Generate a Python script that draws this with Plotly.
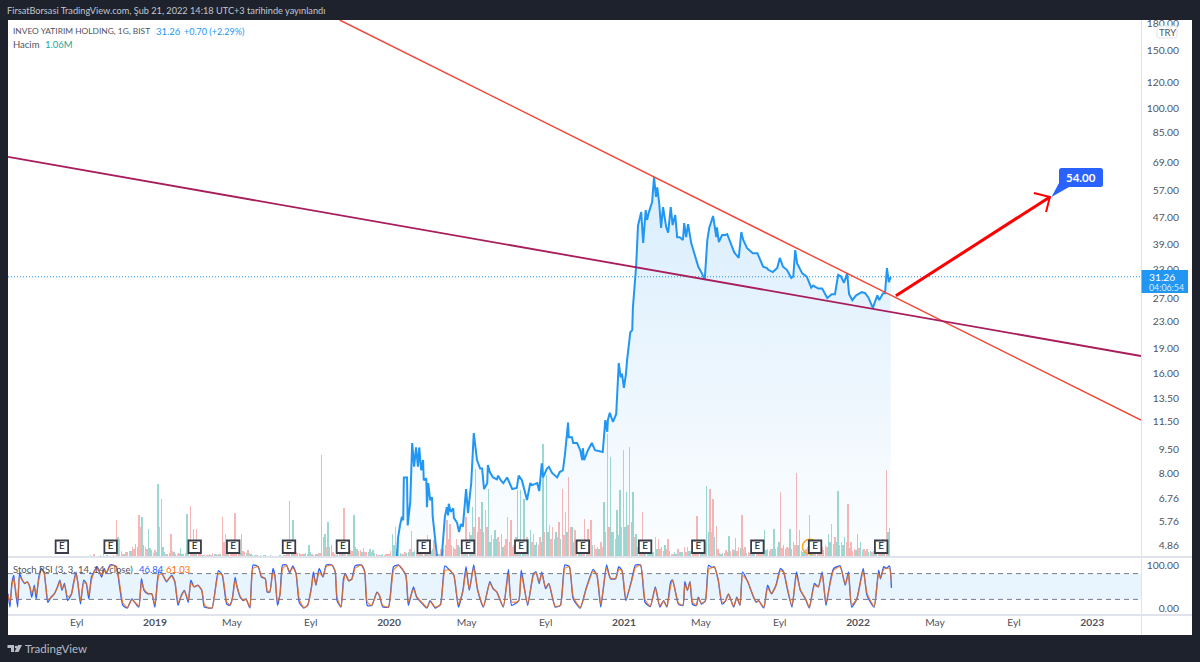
import numpy as np
import pandas as pd
import plotly.graph_objects as go

BASE = pd.Timestamp("2019-01-01")

price_days = [
 376,377,379,382,385,387,388,393,394,398,
 401,404,407,410,412,415,418,419,423,424,
 426,429,432,433,437,440,443,447,452,455,
 457,458,461,465,466,471,474,477,480,485,
 488,493,497,502,507,510,513,518,519,522,
 527,533,535,539,543,549,553,557,564,567,
 572,580,585,588,596,599,603,605,611,614,
 619,627,631,636,639,644,645,650,652,658,
 663,666,667,669,675,681,686,698,702,705,
 706,709,714,719,723,726,728,731,734,736,
 741,744,745,748,750,753,758,761,765,767,
 770,775,778,781,783,786,789,792,797,800,
 804,807,811,814,818,823,825,828,831,836,
 839,845,847,853,857,861,864,870,875,876,
 879,884,889,892,898,903,910,914,917,923,
 932,939,948,954,956,963,970,974,979,985,
 992,995,998,1001,1009,1016,1023,1026,1034,1040,
 1048,1055,1060,1065,1069,1074,1079,1082,1087,1093,
 1102,1107,1112,1119,1126,1129,1135,1138,1141,1144,
 1147]
price_values = [
 4.2,4.5,5.15,5.6,5.95,5.8,7.8,7.8,5.6,6.6,
 9.9,8.4,9.6,8.4,9.6,8.2,8.8,7.65,7.75,6.35,
 7.5,6.67,6.8,5.95,5.05,4.5,3.95,4.5,5.95,6.35,
 6.0,6.5,6.15,6.3,5.9,5.7,5.35,5.65,5.55,7.2,
 6.1,7.5,10.6,8.8,8.3,8.3,7.2,7.5,8.5,8.1,
 7.8,7.7,7.9,7.65,7.5,7.8,7.5,7.2,7.25,7.9,
 7.65,6.67,7.5,7.4,7.5,7.1,8.6,7.8,8.3,8.4,
 8.05,7.8,8.1,8.2,9.1,11.4,10.3,10.3,9.9,9.9,
 9.42,8.8,9.55,8.8,9.42,9.9,9.42,9.3,11.6,10.7,
 11.6,12.2,11.45,12.1,17.2,15.6,16.0,14.5,15.85,17.6,
 21.3,21.6,25.2,30.6,33.5,44.5,48.9,39.5,49.6,46.3,
 48.9,52.4,62.3,54.3,58.0,52.0,43.8,50.6,44.0,42.4,
 50.6,44.7,47.9,41.1,41.1,40.3,45.3,41.1,45.0,39.4,
 37.6,34.3,33.5,31.9,30.6,40.3,43.8,47.6,41.1,44.0,
 39.7,41.7,41.7,42.0,39.4,37.0,35.6,42.6,40.3,38.1,
 36.8,36.8,33.5,33.2,32.8,32.3,33.2,35.6,33.5,32.8,
 31.0,31.3,37.6,34.3,32.0,31.3,29.0,29.4,28.8,28.8,
 27.0,27.7,27.7,31.7,31.4,30.0,32.0,27.7,26.6,27.5,
 28.1,27.9,27.1,25.2,27.5,26.6,27.9,27.9,33.2,30.1,
 31.26]

# Volume in millions, one reading every 5 days from day -225
volume_m = [
 .1,.1,.1,.1,.1,.1,.1,.1,.1,.1,.1,.1,.1,.1,.1,.1,.1,.1,.1,.1,.1,.1,.1,.1,.1,
 .2,.3,.1,.2,.3,.2,.1,.2,3.7,1.8,.3,.5,.6,1.0,1.3,4.2,4.0,1.0,2.8,.7,.7,7.3,5.8,.5,.3,
 2.3,.5,.3,.9,.3,4.3,5.1,2.8,2.8,.3,.2,.2,.3,.4,.3,.3,4.0,2.3,.3,.5,4.4,.5,2.3,.5,.7,
 .3,.2,.2,.2,.2,.1,.2,.1,.1,.2,.2,.4,5.6,3.7,.5,.4,.3,.4,1.2,.3,.3,.4,10.2,2.3,3.5,
 1.2,.3,.3,.5,4.9,1.7,.7,4.2,.8,.7,.9,.5,.8,.7,.3,.2,.3,.3,.3,2.3,3.0,1.5,.3,.5,.5,
 2.6,.6,.5,.8,.3,2.2,.6,1.7,.3,.8,.8,3.7,3.3,1.0,1.8,1.0,1.5,4.0,2.5,5.0,8.8,4.0,5.5,4.7,6.8,
 2.2,2.7,2.0,2.3,1.2,4.0,3.7,1.2,6.7,6.7,5.8,2.0,2.7,2.3,1.5,2.0,11.3,8.2,3.2,3.0,2.5,3.5,6.8,4.5,8.0,
 3.0,2.7,1.8,1.5,3.8,2.8,3.7,1.2,1.0,1.5,5.5,12.3,10.0,2.5,4.7,6.7,10.7,6.5,11.0,6.5,2.3,1.2,4.5,1.0,.5,
 .5,2.0,1.8,1.0,1.2,1.8,.3,.5,.8,.5,1.0,1.0,.6,.8,4.1,1.0,.8,7.1,6.8,5.8,3.1,.4,.4,.7,2.1,
 .8,1.9,1.0,4.2,1.0,.5,.6,.8,1.0,1.0,2.7,.8,.8,2.8,1.0,6.5,1.2,1.0,2.8,1.5,8.4,2.7,.5,.8,4.2,
 1.0,1.2,.8,1.0,1.2,2.3,3.3,2.0,6.6,1.5,2.0,5.3,1.5,.8,2.3,1.5,.8,.8,.6,.6,.8,.8,1.8,8.7,2.9]
volume_up_index = {
 0,1,2,3,4,5,6,7,8,9,10,11,12,13,14,15,16,17,18,19,20,21,22,23,24,25,27,28,30,31,32,
 39,41,43,44,46,47,48,49,51,53,55,57,60,62,64,72,75,76,77,78,79,80,81,82,83,84,85,
 87,88,90,92,93,95,97,98,99,100,102,107,108,110,112,113,116,119,121,124,126,128,131,
 135,138,140,144,147,149,151,153,158,159,160,162,164,166,167,170,175,177,183,185,187,
 189,190,192,194,195,196,199,200,204,207,209,212,215,217,221,222,224,226,232,235,238,
 241,243,247,250,255,258,260,264,265,268,270,272,274}
VOLUME_FIRST_DAY = -225
VOLUME_STEP_DAYS = 5

# Lower bars that sit between the readings above, from reading 33 on
volume_between_m = [
 2.0,.6,.3,.5,.6,.8,1.0,3.0,1.2,.8,
 .9,.4,.5,3.0,1.0,.3,.4,.6,.3,.4,
 .3,.4,1.8,1.5,1.2,.7,.2,.2,.2,.2,
 .3,.2,.3,1.5,.6,.3,.4,1.0,.4,.6,
 .4,.4,.2,.2,.1,.1,.2,.1,.1,.1,
 .1,.1,.2,.3,1.2,.5,.4,.3,.3,.3,
 .5,.2,.3,.4,2.0,1.0,1.0,.5,.2,.3,
 .6,1.2,.5,.6,1.0,.6,.5,.5,.5,.5,
 .4,.2,.2,.2,.3,.6,1.2,.8,.4,.3,
 .4,.8,.5,.4,.5,.3,.6,.5,.8,.4,
 .3,.5,1.2,1.8,1.2,.8,1.2,.8,1.2,1.8,
 2.2,3.0,2.5,2.8,2.5,3.0,1.5,1.8,1.8,1.5,
 1.0,1.8,1.5,1.0,2.0,1.8,1.5,1.5,1.8,1.5,
 1.2,1.2,1.5,2.5,2.5,1.8,1.8,2.0,1.8,2.2,
 2.5,3.0,1.5,1.2,1.0,1.0,1.5,1.5,1.2,.8,
 .8,1.0,2.5,3.0,2.5,1.8,2.2,3.0,3.0,3.2,
 3.5,2.0,1.0,1.0,.8,.5,.4,.5,.8,.8,
 .6,.8,.6,.3,.3,.5,.5,.5,.6,.5,
 .5,1.2,.6,1.5,2.5,2.5,2.0,.8,.3,.4,
 .5,.6,.7,.6,.9,.8,.4,.4,.5,.6,
 .6,.8,.7,.6,.8,.8,1.5,.9,.8,.9,
 .8,1.2,1.2,.6,.5,1.0,.8,.7,.6,.7,
 .7,1.0,1.5,1.3,1.5,1.2,1.2,1.5,.9,.6,
 .7,.9,.7,.6,.5,.5,.5,.6,.8,1.0,
 2.5]
BETWEEN_FIRST_READING = 33

rsi_days = [
 -229,-226,-223,-220,-219,-214,-211,-207,-203,-199,
 -195,-192,-188,-185,-181,-177,-173,-170,-167,-162,
 -157,-152,-148,-145,-141,-136,-130,-127,-123,-120,
 -116,-111,-107,-103,-99,-95,-90,-83,-79,-76,
 -70,-65,-60,-55,-50,-43,-36,-29,-25,-21,
 -17,-11,-5,0,6,11,18,26,31,36,
 41,46,52,56,61,67,73,77,83,89,
 99,105,112,117,121,125,128,133,138,142,
 148,153,161,166,172,175,179,184,187,191,
 195,199,205,210,215,220,225,232,238,244,
 247,251,256,262,267,276,281,284,290,294,
 297,302,307,312,322,327,331,338,346,350,
 355,364,372,380,391,395,403,408,418,424,
 429,437,445,452,460,466,473,480,485,490,
 497,503,512,522,527,533,543,551,556,567,
 571,581,590,594,599,603,609,614,624,632,
 639,646,652,663,672,683,689,695,704,710,
 718,723,728,734,743,749,757,764,772,780,
 787,793,798,804,807,816,823,826,830,834,
 838,844,847,852,858,863,868,872,878,884,
 889,894,902,907,912,916,924,930,937,941,
 949,955,961,968,975,980,985,993,1000,1006,
 1014,1020,1028,1034,1040,1046,1053,1058,1068,1076,
 1081,1086,1094,1104,1110,1121,1128,1131,1136,1140,
 1145,1148]
rsi_k = [
 33,2,57,76,61,2,80,65,57,61,
 49,25,53,21,72,92,84,49,13,25,
 33,49,65,41,57,17,33,57,84,57,
 9,65,57,21,72,84,96,72,92,80,
 100,100,96,49,6,0,21,8,2,68,
 41,33,33,2,84,80,61,76,61,6,
 29,41,13,65,49,53,41,2,0,0,
 87,76,9,6,25,72,49,25,17,21,
 0,100,96,72,68,37,37,92,76,6,
 33,100,100,82,98,80,13,0,6,49,
 84,53,92,72,100,100,84,17,2,68,
 80,63,68,98,100,84,6,6,37,29,
 3,2,96,100,76,6,49,25,8,0,
 17,0,8,98,87,76,2,41,96,41,
 100,41,2,61,45,37,2,90,6,17,
 88,6,80,84,57,84,45,57,2,6,
 100,96,21,0,45,90,76,2,100,68,
 68,96,87,17,65,100,100,13,3,49,
 2,17,2,61,65,9,6,61,41,61,
 8,6,25,9,17,100,94,96,65,9,
 16,33,2,25,6,84,61,37,13,17,
 0,53,33,53,92,84,49,2,84,41,
 21,0,57,49,84,6,65,92,98,53,
 84,2,21,92,29,2,88,68,96,92,
 98,46.84]
rsi_d = [
 30,12,50,70,62,14,72,66,58,60,
 50,34,48,32,66,88,84,52,20,24,
 32,47,62,44,54,26,32,54,80,58,
 16,58,58,30,64,82,92,76,88,82,
 96,99,96,56,12,1,19,10,4,60,
 44,34,33,8,76,80,63,74,62,12,
 27,39,18,58,50,52,42,8,1,0,
 80,77,14,7,23,65,50,27,18,20,
 2,92,96,74,68,40,37,82,75,14,
 30,92,99,84,94,80,20,1,6,46,
 76,56,82,74,96,100,85,24,3,60,
 78,64,67,92,100,85,14,6,35,30,
 6,2,88,99,78,14,44,27,10,1,
 15,2,7,88,88,76,8,38,86,44,
 94,44,4,58,46,37,3,80,14,16,
 78,10,76,82,60,80,48,56,4,6,
 92,96,26,1,43,86,76,8,92,70,
 68,90,87,22,62,94,100,20,4,46,
 5,16,3,52,64,12,6,54,42,60,
 14,6,23,11,16,90,94,95,66,14,
 15,32,4,23,8,76,62,38,15,16,
 2,46,34,51,86,84,52,6,76,43,
 22,2,52,50,78,12,60,88,96,56,
 78,8,20,86,34,4,80,70,90,92,
 92,61.03]

earnings_days = [-145,-69,62,122,209,293,419,488,571,667,764,847,939,1029,1132]
EARNINGS_LEVEL = 4.83

red_trend_days = [288, 1537]
red_trend_prices = [184.6, 11.6]
purple_trend_days = [-229, 1537]
purple_trend_prices = [71.6, 18.07]
arrow_days = [1155, 1395]
arrow_prices = [27.4, 54.3]
arrow_head_days = [1370, 1395, 1389]
arrow_head_prices = [55.8, 54.3, 48.9]
ring_day = [1021]

last_close = 31.26

x_tick_dates = ["2018-09-01","2019-01-01","2019-05-01","2019-09-01","2020-01-01","2020-05-01",
                "2020-09-01","2021-01-01","2021-05-01","2021-09-01","2022-01-01","2022-05-01",
                "2022-09-01","2023-01-01"]
x_tick_labels = ["Eyl","<b>2019</b>","May","Eyl","<b>2020</b>","May","Eyl","<b>2021</b>","May","Eyl",
                 "<b>2022</b>","May","Eyl","<b>2023</b>"]
price_ticks = [180,150,120,100,85,69,57,47,39,33,27,23,19,16,13.5,11.5,9.5,8,6.76,5.76,4.86]
rsi_ticks = [100, 0]


def dates(days):
    return BASE + pd.to_timedelta(days, unit="D")


W, H = 1200, 662
def px(v): return v / W
def py(v): return 1 - v / H

FONT = "Lato"
DARK = "#1e222d"
TXT = "#50535e"
GRID = "#e0e3eb"
BLUE = "#2196f3"
UP = "rgba(38,166,154,0.45)"
DOWN = "rgba(239,83,80,0.42)"

fig = go.Figure()

# volume, on the base axis so that price draws over it
vol_days = [VOLUME_FIRST_DAY + VOLUME_STEP_DAYS * i for i in range(len(volume_m))]
fig.add_trace(go.Bar(
    x=dates(vol_days), y=volume_m, yaxis="y", xaxis="x",
    width=2.2 * 86400000,
    marker=dict(color=[UP if i in volume_up_index else DOWN for i in range(len(volume_m))],
                line=dict(width=0)),
    showlegend=False, hoverinfo="skip"))
between_index = [BETWEEN_FIRST_READING + i for i in range(len(volume_between_m))]
between_days = [VOLUME_FIRST_DAY + VOLUME_STEP_DAYS * i + 2.5 for i in between_index]
fig.add_trace(go.Bar(
    x=dates(between_days), y=volume_between_m, yaxis="y", xaxis="x",
    width=2.2 * 86400000,
    marker=dict(color=[UP if i % 2 else DOWN for i in between_index], line=dict(width=0)),
    showlegend=False, hoverinfo="skip"))

# invisible floor for the area fill
fig.add_trace(go.Scatter(
    x=dates([price_days[0], price_days[-1]]), y=[1, 1], yaxis="y2", mode="lines",
    line=dict(width=0), showlegend=False, hoverinfo="skip"))
fig.add_trace(go.Scatter(
    x=dates(price_days), y=price_values, yaxis="y2", mode="lines",
    line=dict(color=BLUE, width=2), fill="tonexty",
    fillgradient=dict(type="vertical",
                      colorscale=[[0, "rgba(33,150,243,0.01)"], [1, "rgba(33,150,243,0.17)"]],
                      start=4.5, stop=62),
    showlegend=False))

fig.add_trace(go.Scatter(x=dates(red_trend_days), y=red_trend_prices, yaxis="y2", mode="lines",
                         line=dict(color="#f44336", width=1.4), showlegend=False))
fig.add_trace(go.Scatter(x=dates(purple_trend_days), y=purple_trend_prices, yaxis="y2", mode="lines",
                         line=dict(color="#a81d5c", width=1.8), showlegend=False))
fig.add_trace(go.Scatter(x=dates(arrow_days), y=arrow_prices, yaxis="y2", mode="lines",
                         line=dict(color="#ff0000", width=3), showlegend=False))
fig.add_trace(go.Scatter(x=dates(arrow_head_days), y=arrow_head_prices, yaxis="y2", mode="lines",
                         line=dict(color="#ff0000", width=2), showlegend=False))

# earnings flags
fig.add_trace(go.Scatter(x=dates(ring_day), y=[EARNINGS_LEVEL], yaxis="y2", mode="markers",
                         marker=dict(symbol="circle-open", size=15, color="#f6a623", line=dict(width=1.5)),
                         showlegend=False))
fig.add_trace(go.Scatter(x=dates(earnings_days), y=[EARNINGS_LEVEL] * len(earnings_days), yaxis="y2",
                         mode="markers+text", text=["E"] * len(earnings_days),
                         textposition="middle center",
                         textfont=dict(family=FONT, size=10, color="#131722"),
                         marker=dict(symbol="square", size=12.5, color="white",
                                     line=dict(color="#3a3d46", width=1.8)),
                         showlegend=False))

# Stoch RSI
fig.add_trace(go.Scatter(x=dates(rsi_days), y=rsi_k, yaxis="y3", mode="lines",
                         line=dict(color="#2962ff", width=1.3, shape="spline", smoothing=0.5),
                         showlegend=False))
fig.add_trace(go.Scatter(x=dates(rsi_days), y=rsi_d, yaxis="y3", mode="lines",
                         line=dict(color="#ff6d00", width=1.3, shape="spline", smoothing=0.5),
                         opacity=0.75, showlegend=False))

price_lo, price_hi = 4.5, 184.6
xr = dates([-229, 1537])
tick_font = dict(family=FONT, size=10.3, color=TXT)

fig.update_layout(
    width=W, height=H, autosize=False, margin=dict(l=0, r=0, t=0, b=0),
    paper_bgcolor=DARK, plot_bgcolor="rgba(0,0,0,0)", barmode="overlay", bargap=0,
    font=dict(family=FONT, color=TXT), showlegend=False, hovermode=False,
    xaxis=dict(type="date", domain=[px(8), px(1141)], range=[xr[0], xr[1]], anchor="y3",
               tickmode="array", tickvals=x_tick_dates, ticktext=x_tick_labels, ticks="",
               showgrid=False, zeroline=False, showline=False, tickfont=tick_font, automargin=False),
    yaxis=dict(domain=[py(557), py(20)], range=[0, 53.7], visible=False, fixedrange=True),
    yaxis2=dict(type="log", domain=[py(557), py(20)], overlaying="y", side="left", anchor="free",
                position=px(1179),
                range=[np.log10(price_lo), np.log10(price_hi)],
                tickmode="array", tickvals=price_ticks, ticktext=[f"{t:.2f}" for t in price_ticks],
                ticks="", showgrid=False, zeroline=False, showline=False, tickfont=tick_font,
                automargin=False),
    yaxis3=dict(domain=[py(615), py(558)], side="left", anchor="free", position=px(1179),
                range=[-16.3, 116.3],
                tickmode="array", tickvals=rsi_ticks, ticktext=[f"{t:.2f}" for t in rsi_ticks],
                ticks="", showgrid=False, zeroline=False, showline=False, tickfont=tick_font,
                automargin=False),
)

shapes = [
    # white chart card
    dict(type="rect", xref="paper", yref="paper", x0=px(8), x1=px(1192), y0=py(635), y1=py(20),
         fillcolor="white", line=dict(width=0), layer="below"),
    # Stoch RSI band and levels
    dict(type="rect", xref="x", yref="y3", x0=xr[0], x1=xr[1], y0=20, y1=80,
         fillcolor="rgba(33,150,243,0.10)", line=dict(width=0), layer="below"),
    dict(type="line", xref="x", yref="y3", x0=xr[0], x1=xr[1], y0=80, y1=80,
         line=dict(color="#787b86", width=1, dash="5px,4px"), layer="below"),
    dict(type="line", xref="x", yref="y3", x0=xr[0], x1=xr[1], y0=20, y1=20,
         line=dict(color="#787b86", width=1, dash="5px,4px"), layer="below"),
    # last price line
    dict(type="line", xref="x", yref="y2", x0=xr[0], x1=xr[1], y0=last_close, y1=last_close,
         line=dict(color=BLUE, width=1, dash="1px,2px"), layer="below"),
    # pane separators
    dict(type="line", xref="paper", yref="paper", x0=px(1141.5), x1=px(1141.5), y0=py(635), y1=py(20),
         line=dict(color=GRID, width=1)),
    dict(type="line", xref="paper", yref="paper", x0=px(8), x1=px(1192), y0=py(557), y1=py(557),
         line=dict(color=GRID, width=2)),
    dict(type="line", xref="paper", yref="paper", x0=px(8), x1=px(1192), y0=py(615), y1=py(615),
         line=dict(color=GRID, width=2)),
    # dark band clipping the top tick label
    dict(type="rect", xref="paper", yref="paper", x0=0, x1=1, y0=py(20), y1=1,
         fillcolor=DARK, line=dict(width=0), layer="above"),
    # last price tag
    dict(type="rect", xref="paper", yref="paper", x0=px(1141.5), x1=px(1188), y0=py(293), y1=py(270),
         fillcolor=BLUE, line=dict(width=0), layer="above"),
]


def rounded(x0, y0, x1, y1, r):
    return (f"M {px(x0+r)} {py(y0)} L {px(x1-r)} {py(y0)} Q {px(x1)} {py(y0)} {px(x1)} {py(y0+r)} "
            f"L {px(x1)} {py(y1-r)} Q {px(x1)} {py(y1)} {px(x1-r)} {py(y1)} "
            f"L {px(x0+r)} {py(y1)} Q {px(x0)} {py(y1)} {px(x0)} {py(y1-r)} "
            f"L {px(x0)} {py(y0+r)} Q {px(x0)} {py(y0)} {px(x0+r)} {py(y0)} Z")


# TRY box
shapes.append(dict(type="path", xref="paper", yref="paper", path=rounded(1157, 26, 1177, 38, 2),
                   fillcolor="white", line=dict(color=GRID, width=1), layer="above"))
# 54.00 callout
shapes.append(dict(type="path", xref="paper", yref="paper", path=rounded(1059, 168, 1103, 187, 2.5),
                   fillcolor="#2962ff", line=dict(width=0), layer="above"))
shapes.append(dict(type="path", xref="paper", yref="paper",
                   path=f"M {px(1059)} {py(183)} L {px(1051.5)} {py(197)} L {px(1069)} {py(187)} Z",
                   fillcolor="#2962ff", line=dict(width=0), layer="above"))
# TradingView logo
logo = "#b8bbc4"
shapes.append(dict(type="path", xref="paper", yref="paper",
                   path=(f"M {px(7.5)} {py(645)} L {px(14)} {py(645)} L {px(14)} {py(652)} L {px(11)} {py(652)} "
                         f"L {px(11)} {py(648)} L {px(7.5)} {py(648)} Z"),
                   fillcolor=logo, line=dict(width=0), layer="above"))
shapes.append(dict(type="path", xref="paper", yref="paper",
                   path=(f"M {px(18)} {py(645)} L {px(22)} {py(645)} L {px(18.5)} {py(652)} L {px(14.5)} {py(652)} Z"),
                   fillcolor=logo, line=dict(width=0), layer="above"))
shapes.append(dict(type="circle", xref="paper", yref="paper", x0=px(14.7), x1=px(17.3), y0=py(648.3), y1=py(645.7),
                   fillcolor=logo, line=dict(width=0), layer="above"))
fig.update_layout(shapes=shapes)


def note(text, x, y, color=TXT, size=10.5, anchor="left", weight=None):
    fig.add_annotation(text=text, xref="paper", yref="paper", x=px(x), y=py(y), showarrow=False,
                       xanchor=anchor, yanchor="middle", align=anchor,
                       font=dict(family=FONT, size=size, color=color, weight=weight), borderpad=0, borderwidth=0)


note("FirsatBorsasi TradingView.com, Şub 21, 2022 14:18 UTC+3 tarihinde yayınlandı", 7, 10.5, "#c3c6ce", 9.2)
note("INVEO YATIRIM HOLDING, 1G, BIST", 13, 31, TXT, 8.4)
note("31.26", 156, 31, BLUE, 9.5)
note("+0.70 (+2.29%)", 184, 31, BLUE, 9)
note("Hacim", 13, 44.5, TXT, 9.5)
note("1.06M", 45, 44.5, "#26a69a", 9.5)
note("Stoch RSI (3, 3, 14, 14, close)", 13, 569.5, TXT, 9.5)
note("46.84", 139, 569.5, "#2962ff", 9.5)
note("61.03", 166, 569.5, "#ff6d00", 9.5)
note("TRY", 1167, 32, TXT, 9.5, "center")
note("31.26", 1149, 276.5, "white", 10.3)
note("04:06:54", 1149, 287.5, "#d8ecfd", 8.8)
note("54.00", 1081, 177, "white", 11.5, "center", "bold")
note("TradingView", 25, 648.5, "#b8bbc4", 11.5)

fig.write_html("out.html", config={"displayModeBar": False},
               post_script="document.body.style.margin='0';document.body.style.overflow='hidden';")
